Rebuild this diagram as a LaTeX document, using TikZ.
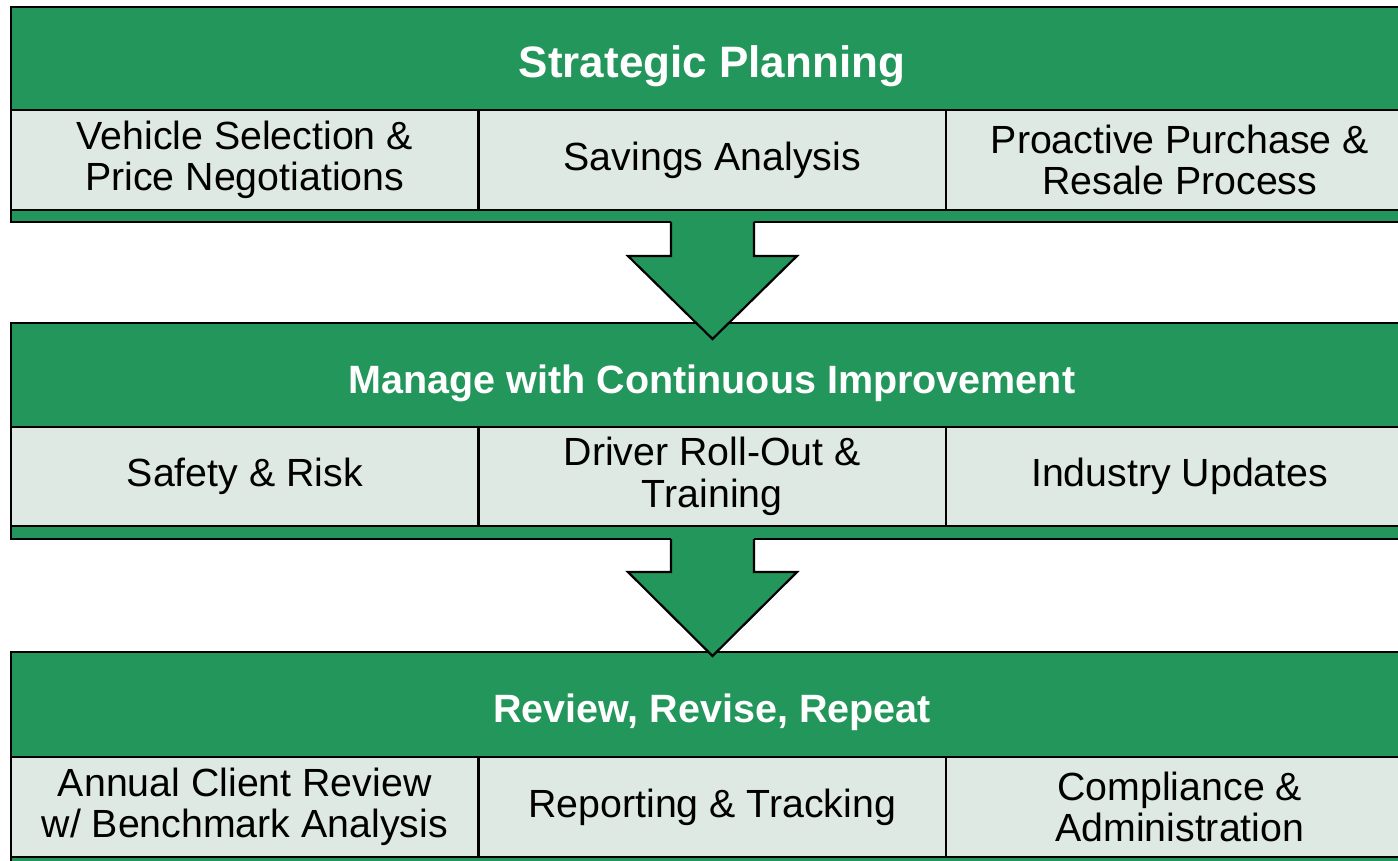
\documentclass[tikz,border=0pt]{standalone}
\usepackage{fontspec}
\setmainfont{Liberation Sans}
\usetikzlibrary{calc}
\definecolor{grn}{RGB}{35,150,91}
\definecolor{lgt}{RGB}{221,233,226}
\begin{document}
\begin{tikzpicture}[x=1pt,y=-1pt,
  box/.style={draw=black, line width=2.2pt, inner sep=0pt, outer sep=0pt, anchor=north west, align=center},
  hdr/.style={box, fill=grn, text=white, font=\fontsize{39.5}{44}\selectfont\bfseries, text height=44pt, text depth=8pt},
  cell/.style={box, fill=lgt, text=black, font=\fontsize{39.3}{41.5}\selectfont, minimum width=467.5pt},
  strip/.style={box, fill=grn},
  bigarrow/.style={fill=grn},
  arrowline/.style={draw=black, line width=2.2pt, line join=miter}]
\useasboundingbox (0,0) rectangle (1398,861);
\clip (0,0) rectangle (1398,861);
\fill[white] (0,0) rectangle (1398,861);

% Block 1
\node[hdr, minimum width=1402pt, minimum height=103pt, font=\fontsize{44}{48}\selectfont\bfseries, text height=48pt, text depth=9pt] (h1) at (11,7) {Strategic Planning};
\node[cell, minimum height=100pt] (c11) at (11,110) {Vehicle Selection \&\\Price Negotiations};
\node[cell, minimum height=100pt] (c12) at (478.5,110) {Savings Analysis};
\node[cell, minimum height=100pt] (c13) at (946,110) {Proactive Purchase \&\\Resale Process};
\node[strip, minimum width=1402pt, minimum height=12pt] (s1) at (11,210) {};

% Block 2
\node[hdr, minimum width=1402pt, minimum height=104pt] (h2) at (11,323) {Manage with Continuous Improvement};
\node[cell, minimum height=99pt] (c21) at (11,427) {Safety \& Risk};
\node[cell, minimum height=99pt] (c22) at (478.5,427) {Driver Roll-Out \&\\Training};
\node[cell, minimum height=99pt] (c23) at (946,427) {Industry Updates};
\node[strip, minimum width=1402pt, minimum height=13pt] (s2) at (11,526) {};

% Block 3
\node[hdr, minimum width=1402pt, minimum height=105pt] (h3) at (11,652) {Review, Revise, Repeat};
\node[cell, minimum height=100pt] (c31) at (11,757) {Annual Client Review\\w/ Benchmark Analysis};
\node[cell, minimum height=100pt] (c32) at (478.5,757) {Reporting \& Tracking};
\node[cell, minimum height=100pt] (c33) at (946,757) {Compliance \&\\Administration};
\node[strip, minimum width=1402pt, minimum height=14pt] (s3) at (11,857) {};

% Arrow 1 (from block 1 to block 2)
\coordinate (a1) at (s1.south);
\fill[bigarrow] ($(a1)+(-41,-1)$) -- ($(a1)+(-41,34)$) -- ($(a1)+(-84,34)$) -- ($(a1)+(0.5,117)$) -- ($(a1)+(85,34)$) -- ($(a1)+(42,34)$) -- ($(a1)+(42,-1)$) -- cycle;
\draw[arrowline] (a1) ++(-41,0) -- ($(a1)+(-41,34)$) -- ($(a1)+(-84,34)$) -- ($(a1)+(0.5,117)$) -- ($(a1)+(85,34)$) -- ($(a1)+(42,34)$) -- ($(a1)+(42,0)$);

% Arrow 2 (from block 2 to block 3)
\coordinate (a2) at (s2.south);
\fill[bigarrow] ($(a2)+(-41,-1)$) -- ($(a2)+(-41,33)$) -- ($(a2)+(-84,33)$) -- ($(a2)+(0.5,117)$) -- ($(a2)+(85,33)$) -- ($(a2)+(42,33)$) -- ($(a2)+(42,-1)$) -- cycle;
\draw[arrowline] (a2) ++(-41,0) -- ($(a2)+(-41,33)$) -- ($(a2)+(-84,33)$) -- ($(a2)+(0.5,117)$) -- ($(a2)+(85,33)$) -- ($(a2)+(42,33)$) -- ($(a2)+(42,0)$);
\end{tikzpicture}
\end{document}
